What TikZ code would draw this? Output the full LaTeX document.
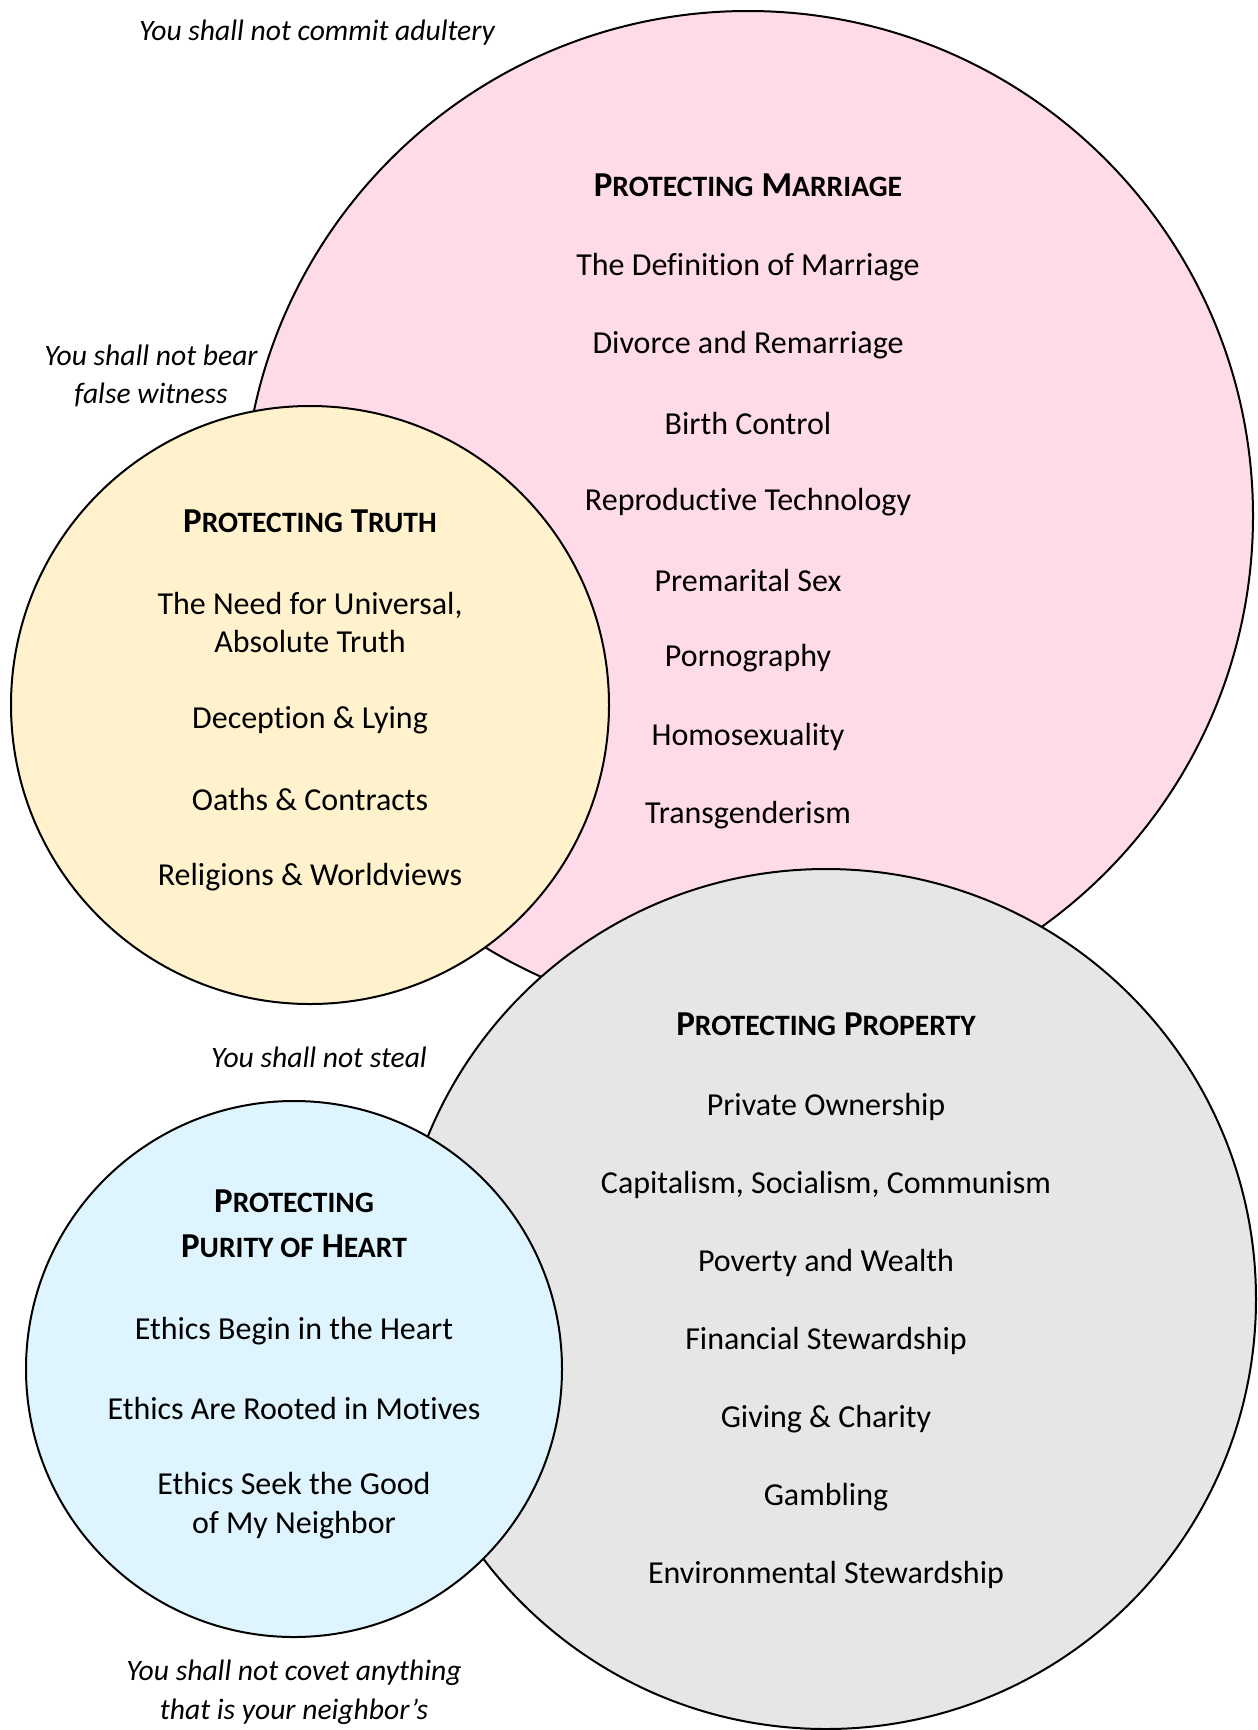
\documentclass[tikz,border=0pt]{standalone}
\usepackage{fontspec}
\setmainfont{Carlito}[Ligatures=NoCommon]
\usetikzlibrary{positioning}
\definecolor{marriagepink}{RGB}{255,218,233}
\definecolor{truthyellow}{RGB}{255,242,204}
\definecolor{propertygray}{RGB}{230,230,230}
\definecolor{purityblue}{RGB}{222,244,254}
\newcommand\hsc[1]{{\fontsize{14.8}{19}\selectfont #1}}

\begin{document}
\begin{tikzpicture}[x=0.5pt,y=-0.5pt]
	\tikzset{zone/.style = {shape=circle, draw, line width=1pt, inner sep=0pt},
		head/.style = {font=\fontsize{17.5}{22.6}\selectfont\bfseries, align=center, inner sep=0pt},
		item/.style = {font=\fontsize{16}{19.4}\selectfont, align=center, inner sep=0pt, yshift=-1.2pt},
		law/.style = {font=\fontsize{14.8}{19.4}\selectfont\itshape, align=center, inner sep=0pt, yshift=-1pt}}
	\useasboundingbox (0,0) rectangle (1258,1730);
	
	\node[zone, fill=marriagepink, minimum size=505pt] (MARRIAGE) at (748,516) {};
	\node[zone, fill=truthyellow, minimum size=299pt] (TRUTH) at (310,705) {};
	\node[zone, fill=propertygray, minimum size=430pt] (PROPERTY) at (826,1299) {};
	\node[zone, fill=purityblue, minimum size=268pt] (PURITY) at (294,1369) {};
	
	\node[head] (MHEAD) at (748,185) {P\hsc{ROTECTING} M\hsc{ARRIAGE}};
	\foreach \t [count=\i] in {The Definition of Marriage, Divorce and Remarriage, Birth Control,
		Reproductive Technology, Premarital Sex, Pornography, Homosexuality, Transgenderism}
		\node[item] (M\i) at (748,{265+78.2*(\i-1)}) {\t};
	
	\node[head] (THEAD) at (310,521) {P\hsc{ROTECTING} T\hsc{RUTH}};
	\node[item] (T1) at (310,620) {The Need for Universal,\\Absolute Truth};
	\node[item] (T2) at (310,718) {Deception \& Lying};
	\node[item] (T3) at (310,797) {Oaths \& Contracts};
	\node[item] (T4) at (310,875) {Religions \& Worldviews};
	
	\node[head] (PHEAD) at (826,1024) {P\hsc{ROTECTING} P\hsc{ROPERTY}};
	\foreach \t [count=\i] in {Private Ownership, {Capitalism, Socialism, Communism}, Poverty and Wealth,
		Financial Stewardship, Giving \& Charity, Gambling, Environmental Stewardship}
		\node[item] (P\i) at (826,{1105+78*(\i-1)}) {\t};
	
	\node[head] (HHEAD) at (294,1224) {P\hsc{ROTECTING}\\P\hsc{URITY OF} H\hsc{EART}};
	\node[item] (H1) at (294,1329) {Ethics Begin in the Heart};
	\node[item] (H2) at (294,1406) {Ethics Are Rooted in Motives};
	\node[item] (H3) at (294,1503) {Ethics Seek the Good\\of My Neighbor};
	
	\node[law] (ADULTERY) at (317,31) {You shall not commit adultery};
	\node[law] (WITNESS) at (151,374) {You shall not bear\\false witness};
	\node[law] (STEAL) at (319,1055) {You shall not steal};
	\node[law] (COVET) at (294,1690) {You shall not covet anything\\that is your neighbor’s};
\end{tikzpicture}
\end{document}
